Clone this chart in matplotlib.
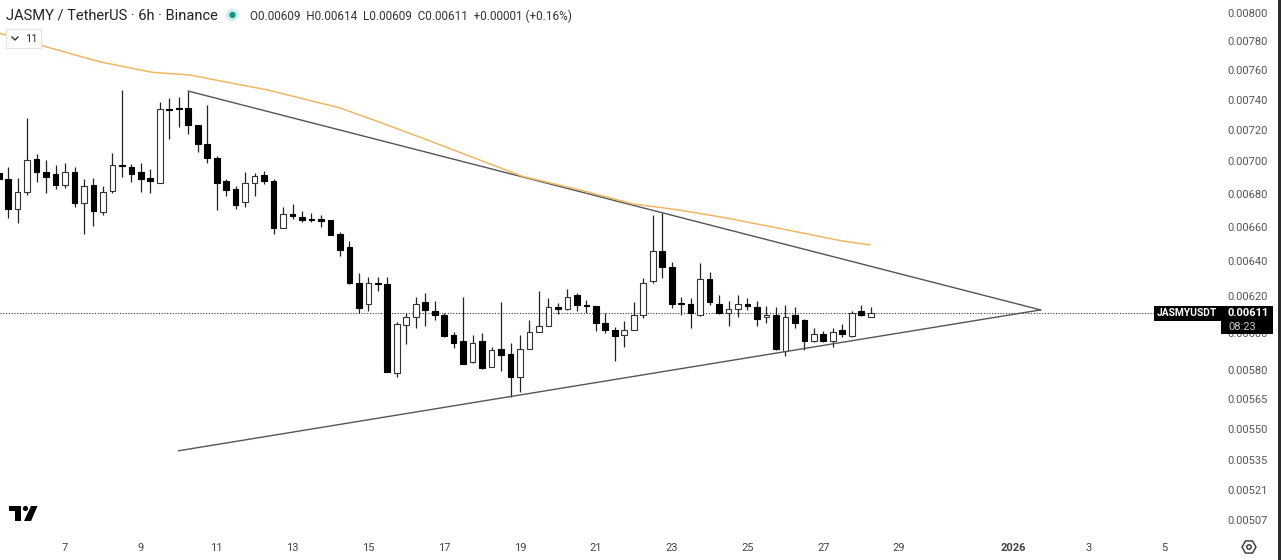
import matplotlib
matplotlib.use('Agg')
import matplotlib.pyplot as plt
from matplotlib.patches import Rectangle, Circle, Polygon, RegularPolygon
import numpy as np

plt.rcParams['font.family'] = ['Roboto', 'DejaVu Sans']

# 6h candles, prices in units of 0.00001. Day 7 = Dec 7, day 32 = Jan 1
first_day = 5.25
opens = [692.7, 689.0, 670.4, 680.8, 701.7, 693.6, 692.0, 685.3, 693.6, 674.5, 685.5, 668.6, 681.4,
         697.7, 696.7, 693.6, 689.6, 686.5, 733.9, 734.3, 734.5, 723.5, 711.2, 702.0, 688.0, 682.6,
         674.7, 686.5, 691.7, 687.8, 659.3, 667.8, 665.6, 664.4, 664.4, 664.0, 655.5, 647.9, 627.4,
         615.7, 627.4, 627.0, 578.5, 604.3, 608.5, 617.0, 611.9, 609.8, 598.5, 595.5, 584.4, 595.5,
         581.6, 591.4, 588.6, 576.6, 591.2, 600.1, 603.4, 613.9, 612.8, 620.5, 615.0, 614.8, 605.4,
         601.4, 598.5, 601.2, 609.5, 628.4, 645.5, 636.3, 616.1, 615.7, 609.6, 629.5, 615.9, 610.6,
         612.8, 615.9, 613.9, 608.5, 609.6, 590.3, 609.6, 606.7, 595.3, 599.2, 595.3, 601.4, 598.3,
         611.9, 608.5]
highs = [697.7, 696.7, 689.5, 727.7, 704.7, 700.9, 697.7, 698.8, 696.7, 689.0, 689.5, 684.9, 705.5,
         746.4, 698.4, 698.8, 695.0, 738.7, 740.9, 741.6, 745.7, 723.5, 736.5, 703.4, 689.2, 684.7,
         693.6, 692.5, 694.0, 689.2, 671.8, 673.7, 669.6, 668.0, 667.0, 664.0, 656.7, 651.8, 632.9,
         630.6, 630.6, 630.6, 605.6, 610.9, 619.7, 621.6, 617.5, 610.9, 600.5, 619.7, 598.7, 599.6,
         592.5, 617.0, 594.6, 598.7, 606.9, 622.9, 618.9, 616.4, 623.9, 621.6, 617.9, 614.8, 610.6,
         603.2, 606.5, 617.0, 630.4, 667.0, 668.0, 639.5, 619.4, 619.2, 638.6, 633.8, 620.7, 617.5,
         620.7, 618.9, 617.5, 614.8, 613.9, 615.0, 613.9, 607.6, 602.3, 601.0, 602.7, 604.5, 611.9,
         615.0, 613.9]
lows = [687.8, 665.2, 662.0, 679.1, 687.3, 680.1, 682.8, 683.3, 672.0, 655.7, 660.6, 667.0, 680.1,
        690.0, 687.3, 681.1, 680.1, 686.3, 714.0, 721.8, 717.5, 705.7, 699.2, 670.0, 678.7, 670.8,
        672.0, 678.7, 685.9, 655.7, 659.1, 664.4, 663.0, 663.0, 659.7, 655.0, 643.0, 627.1, 610.6,
        612.0, 622.9, 579.0, 576.7, 593.7, 602.7, 603.8, 606.9, 597.5, 591.6, 583.2, 584.0, 580.9,
        581.6, 579.8, 566.1, 568.9, 591.2, 600.1, 603.4, 610.2, 612.4, 612.0, 610.6, 600.9, 599.6,
        584.9, 592.5, 601.2, 607.8, 627.2, 630.1, 613.4, 609.8, 602.7, 609.2, 615.2, 610.2, 603.6,
        608.7, 612.4, 603.6, 605.4, 590.9, 587.5, 602.7, 590.7, 595.1, 595.1, 592.5, 597.5, 597.7,
        608.9, 608.3]
closes = [689.0, 670.4, 680.8, 700.7, 693.4, 690.5, 685.3, 693.6, 674.5, 684.9, 669.4, 680.8, 697.5,
          697.3, 692.2, 689.2, 687.8, 733.7, 733.4, 733.7, 723.3, 711.2, 702.2, 686.3, 682.2, 673.2,
          686.5, 690.7, 687.6, 659.3, 667.8, 666.4, 664.0, 664.0, 663.6, 655.1, 646.5, 627.2, 613.7,
          627.2, 626.7, 579.3, 604.5, 608.7, 615.9, 612.6, 609.5, 598.2, 594.2, 583.3, 594.4, 581.2,
          590.5, 588.2, 576.6, 591.4, 600.3, 603.4, 613.9, 612.8, 619.4, 615.0, 614.6, 605.4, 601.4,
          598.3, 601.4, 609.6, 627.4, 645.5, 636.3, 615.7, 615.7, 610.6, 629.5, 616.8, 610.6, 612.8,
          615.9, 614.8, 607.4, 609.6, 591.2, 608.7, 605.4, 595.3, 599.2, 595.3, 600.3, 599.2, 610.6,
          609.5, 610.6]

# moving average
ma_days = [5.28, 6.4, 7.9, 9.3, 10.28, 12.33, 14.25, 15.3, 16.6, 17.93, 19.08, 20.58, 21.98, 23.2,
           24.45, 26.18, 27.5, 28.23]
ma_vals = [785.5, 776.8, 765.7, 758.4, 756.6, 746.5, 734.5, 725.1, 713.2, 700.9, 690.5, 682.2, 673.7,
           670.0, 665.2, 657.5, 651.6, 649.3]

# triangle lines
upper_days = [10.25, 32.73]
upper_vals = [745.7, 612.4]
lower_days = [10.0, 32.73]
lower_vals = [539.5, 612.4]

last_price = 610.6

price_ticks = [800, 780, 760, 740, 720, 700, 680, 660, 640, 620, 600, 580, 565, 550, 535, 521, 507]
day_ticks = [7, 9, 11, 13, 15, 17, 19, 21, 23, 25, 27, 29, 32, 34, 36]
day_labels = ['7', '9', '11', '13', '15', '17', '19', '21', '23', '25', '27', '29', '2026', '3', '5']

W, H = 1281, 560
fig = plt.figure(figsize=(W/100, H/100), dpi=100)
ax = fig.add_axes([0, 25/H, 1222/W, 535/H])
ax.set_yscale('log')

days = first_day + np.arange(len(opens))*0.25
o = np.array(opens)/1e5
h = np.array(highs)/1e5
l = np.array(lows)/1e5
c = np.array(closes)/1e5

ax.axhline(last_price/1e5, color='#333333', lw=0.8, ls=(0, (1, 1.5)), zorder=1)

ax.vlines(days, l, h, color='#222222', lw=0.9, zorder=2)
up = c >= o
ax.bar(days[up], np.abs(c-o)[up], bottom=np.minimum(o, c)[up], width=0.15, color='white',
       edgecolor='#333333', linewidth=0.8, zorder=3)
ax.bar(days[~up], np.abs(c-o)[~up], bottom=np.minimum(o, c)[~up], width=0.15, color='black',
       edgecolor='black', linewidth=0.8, zorder=3)

ax.plot(upper_days, np.array(upper_vals)/1e5, color='#555555', lw=1.0, zorder=4)
ax.plot(lower_days, np.array(lower_vals)/1e5, color='#555555', lw=1.0, zorder=4)
ax.plot(ma_days, np.array(ma_vals)/1e5, color='#eeb765', lw=1.1, zorder=5)

ax.set_xlim(5.285, 37.515)
ax.set_ylim(500.1e-5, 809.4e-5)
ax.yaxis.tick_right()
ax.minorticks_off()
ax.set_yticks([p/1e5 for p in price_ticks])
ax.set_yticklabels(['%.5f' % (p/1e5) for p in price_ticks], fontsize=8, color='#555555')
ax.set_xticks(day_ticks)
ax.set_xticklabels(day_labels, fontsize=8, color='#444444')
ax.get_xticklabels()[12].set_fontweight('bold')
ax.tick_params(axis='both', length=0)
ax.tick_params(axis='x', pad=6)
ax.tick_params(axis='y', pad=4)
for s in ax.spines.values():
    s.set_visible(False)

# screen furniture, in pixel coordinates
top = fig.add_axes([0, 0, 1, 1], zorder=5)
top.set_xlim(0, W)
top.set_ylim(H, 0)
top.axis('off')
top.patch.set_alpha(0)

top.add_patch(Rectangle((1278, 0), 3, H, color='#2b2b2b', lw=0))

top.text(6, 16, 'JASMY / TetherUS · 6h · Binance', fontsize=10.5, color='#222222', va='center')
top.add_patch(Circle((232.5, 15), 6.5, color='#d5f0ec', lw=0))
top.add_patch(Circle((232.5, 15), 3.2, color='#129a85', lw=0))
top.text(250, 16, 'O0.00609  H0.00614  L0.00609  C0.00611  +0.00001 (+0.16%)', fontsize=8.5,
         color='#333333', va='center')

top.add_patch(Rectangle((6, 29), 35, 19, facecolor='white', edgecolor='#e0e3eb', lw=0.8, zorder=6))
top.plot([12, 15, 18], [37, 40, 37], color='#333333', lw=1, zorder=7)
top.text(25, 39, '11', fontsize=8, color='#333333', va='center', zorder=7)

# TradingView mark
top.add_patch(Polygon([(9, 506), (21, 506), (21, 521), (15, 521), (15, 511), (9, 511)], color='black', lw=0))
top.add_patch(Circle((25.5, 508.5), 2.6, color='black', lw=0))
top.add_patch(Polygon([(31, 506), (37.5, 506), (31, 521), (24, 521)], color='black', lw=0))

# last price tags
top.add_patch(Rectangle((1154, 306), 66.5, 14.7, color='black', lw=0))
top.add_patch(Rectangle((1221, 305.7), 52, 28.3, color='black', lw=0))
top.text(1187, 313.5, 'JASMYUSDT', fontsize=7.4, fontweight='bold', color='white', ha='center', va='center')
top.text(1228, 313.5, '0.00611', fontsize=8, fontweight='bold', color='white', va='center')
top.text(1228, 326.5, '08:23', fontsize=8, color='#cccccc', va='center')

# settings icon
top.add_patch(RegularPolygon((1249, 547), 6, radius=7, orientation=np.pi/6, facecolor='none',
                             edgecolor='#333333', lw=1))
top.add_patch(Circle((1249, 547), 2.2, facecolor='none', edgecolor='#333333', lw=1))

fig.savefig('out.png', dpi=100)
